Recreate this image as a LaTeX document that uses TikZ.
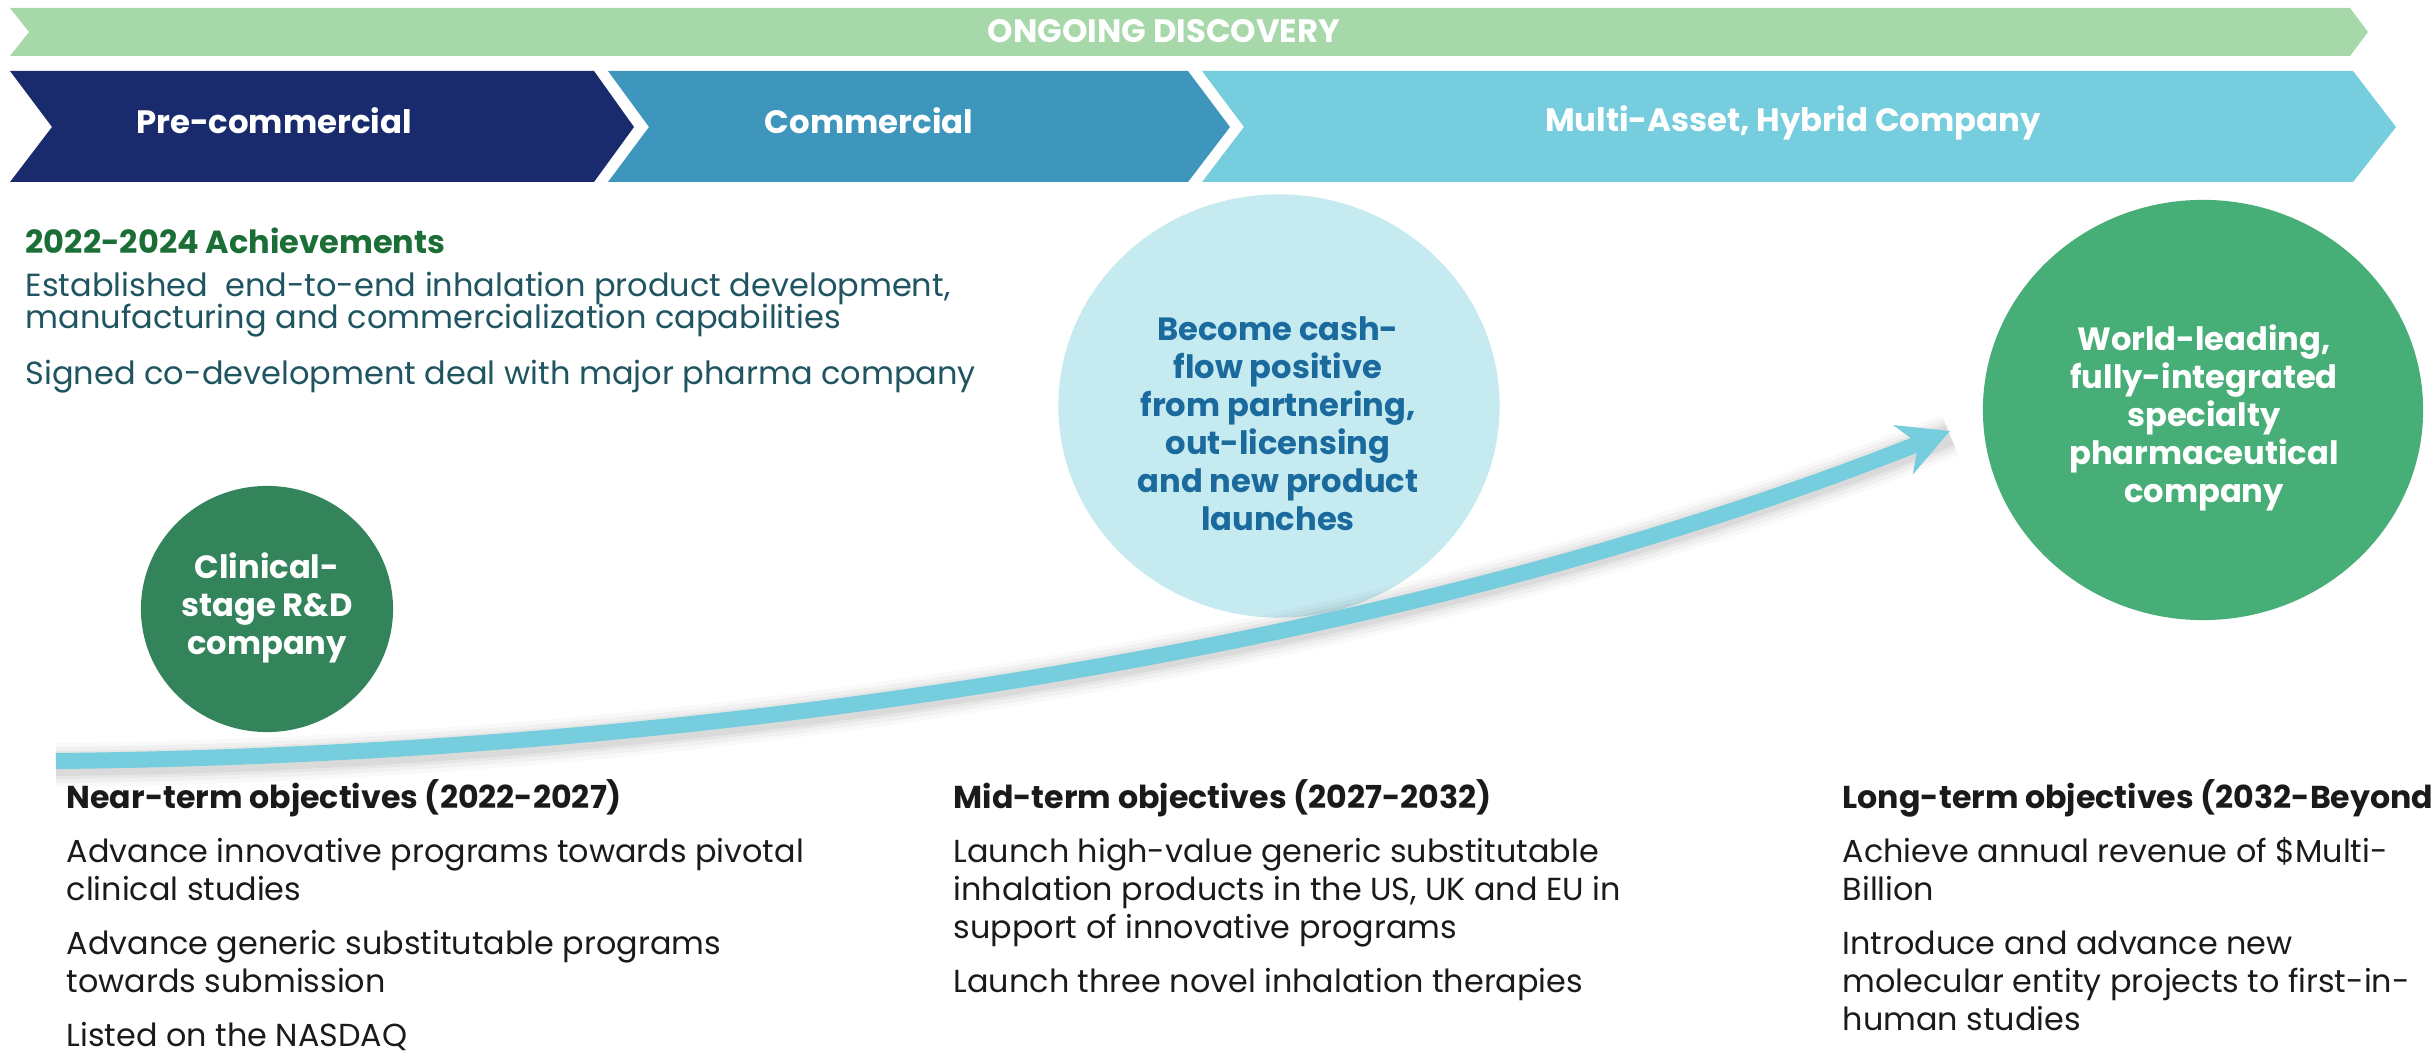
\documentclass[tikz,border=0pt]{standalone}
\usepackage{fontspec}
\setmainfont{Poppins}
\usetikzlibrary{arrows.meta,shapes.geometric}
\definecolor{gbar}{HTML}{A7D8AA}
\definecolor{navy}{HTML}{1A2B6D}
\definecolor{midblue}{HTML}{3F96BD}
\definecolor{lightblue}{HTML}{75CDDD}
\definecolor{darkgreen}{HTML}{33845A}
\definecolor{palecyan}{HTML}{C5EAF0}
\definecolor{cyantext}{HTML}{1A6A9E}
\definecolor{midgreen}{HTML}{48AE78}
\definecolor{achgreen}{HTML}{1B6E36}
\definecolor{achtext}{HTML}{1F5561}
\definecolor{ink}{HTML}{1A1A1A}
\tikzset{
  chevtxt/.style={font=\bfseries\fontsize{9.2}{10}\selectfont, text=white, anchor=base, inner sep=0pt},
  bodytxt/.style={font=\fontsize{9.05}{10.8}\selectfont, text=ink, anchor=base west, inner sep=0pt},
  headtxt/.style={bodytxt, font=\bfseries\fontsize{9.0}{10.8}\selectfont},
  achhead/.style={font=\bfseries\fontsize{9.1}{9.1}\selectfont, text=achgreen, anchor=base west, inner sep=0pt},
  achbody/.style={font=\fontsize{9.1}{9.1}\selectfont, text=achtext, anchor=base west, inner sep=0pt},
  blob/.style={ellipse, draw=none, inner sep=0pt},
  blobtxt/.style={font=\bfseries\fontsize{9.15}{10.81}\selectfont, align=center, inner sep=0pt},
}
\begin{document}
\begin{tikzpicture}[x=0.01cm,y=-0.01cm]
\useasboundingbox (0,0) rectangle (2433,1052);
\clip (0,0) rectangle (2433,1052);

% top bands
\fill[gbar] (10,8) -- (2350,8) -- (2368,32) -- (2350,56) -- (10,56) -- (29,32) -- cycle;
\fill[navy] (10,71) -- (594,71) -- (634,127) -- (594,182) -- (10,182) -- (52,127) -- cycle;
\fill[midblue] (608,71) -- (1188,71) -- (1230,127) -- (1188,182) -- (608,182) -- (649,127) -- cycle;
\fill[lightblue] (1202,71) -- (2353,71) -- (2396,127) -- (2353,182) -- (1202,182) -- (1244,127) -- cycle;

\node[chevtxt] (disc) at (1164,43) {ONGOING DISCOVERY};
\node[chevtxt] (pre) at (274,134) {Pre-commercial};
\node[chevtxt] (com) at (869,134) {Commercial};
\node[chevtxt] (multi) at (1793,132) {Multi-Asset, Hybrid Company};

% achievements
\node[achhead] (ach0) at (25,254) {2022-2024 Achievements};
\node[achbody] (ach1) at (25,297) {Established\ \ end-to-end inhalation product development,};
\node[achbody] (ach2) at (25,329) {manufacturing and commercialization capabilities};
\node[achbody] (ach3) at (25,385) {Signed co-development deal with major pharma company};

% circles
\node[blob, fill=palecyan, minimum width=4.41cm, minimum height=4.23cm] (midc) at (1279,406) {};
\node[blob, fill=midgreen, minimum width=4.4cm, minimum height=4.2cm] (rightc) at (2203,410) {};

% arrow with soft shadow
\coordinate (as) at (56,761);
\coordinate (ae) at (1950,431);
\foreach \w/\o in {4.4/0.025,3.6/0.035,2.8/0.045,2.2/0.05}{
  \draw[line width=\w mm, black, opacity=\o] ([yshift=-0.04cm]as) .. controls (700,759) and (1400,654) .. ([yshift=-0.04cm]ae);
}
\draw[line width=1.6mm, lightblue, -{Stealth[length=5mm,width=5.2mm,inset=1.6mm]}] (as) .. controls (700,755) and (1400,650) .. (ae);

\node[blob, fill=darkgreen, minimum width=2.52cm, minimum height=2.46cm] (leftc) at (267,609) {};

\node[blobtxt, text=white] (leftt) at (267,608) {Clinical-\\stage R\&D\\company};
\node[blobtxt, text=cyantext] (midt) at (1278,424) {Become cash-\\flow positive\\from partnering,\\out-licensing\\and new product\\launches};
\node[blobtxt, text=white] (rightt) at (2204,418) {World-leading,\\fully-integrated\\specialty\\pharmaceutical\\company};

% near-term
\node[headtxt] (n0) at (66,808) {Near-term objectives (2022-2027)};
\node[bodytxt] (n1) at (66,862) {Advance innovative programs towards pivotal};
\node[bodytxt] (n2) at (66,900) {clinical studies};
\node[bodytxt] (n3) at (66,954) {Advance generic substitutable programs};
\node[bodytxt] (n4) at (66,992) {towards submission};
\node[bodytxt] (n5) at (66,1046) {Listed on the NASDAQ};

% mid-term
\node[headtxt] (m0) at (953,808) {Mid-term objectives (2027-2032)};
\node[bodytxt] (m1) at (953,862) {Launch high-value generic substitutable};
\node[bodytxt] (m2) at (953,900) {inhalation products in the US, UK and EU in};
\node[bodytxt] (m3) at (953,938) {support of innovative programs};
\node[bodytxt] (m4) at (953,992) {Launch three novel inhalation therapies};

% long-term
\node[headtxt] (l0) at (1842,808) {Long-term objectives (2032-Beyond)};
\node[bodytxt] (l1) at (1842,862) {Achieve annual revenue of \$Multi-};
\node[bodytxt] (l2) at (1842,900) {Billion};
\node[bodytxt] (l3) at (1842,954) {Introduce and advance new};
\node[bodytxt] (l4) at (1842,992) {molecular entity projects to first-in-};
\node[bodytxt] (l5) at (1842,1030) {human studies};
\end{tikzpicture}
\end{document}
